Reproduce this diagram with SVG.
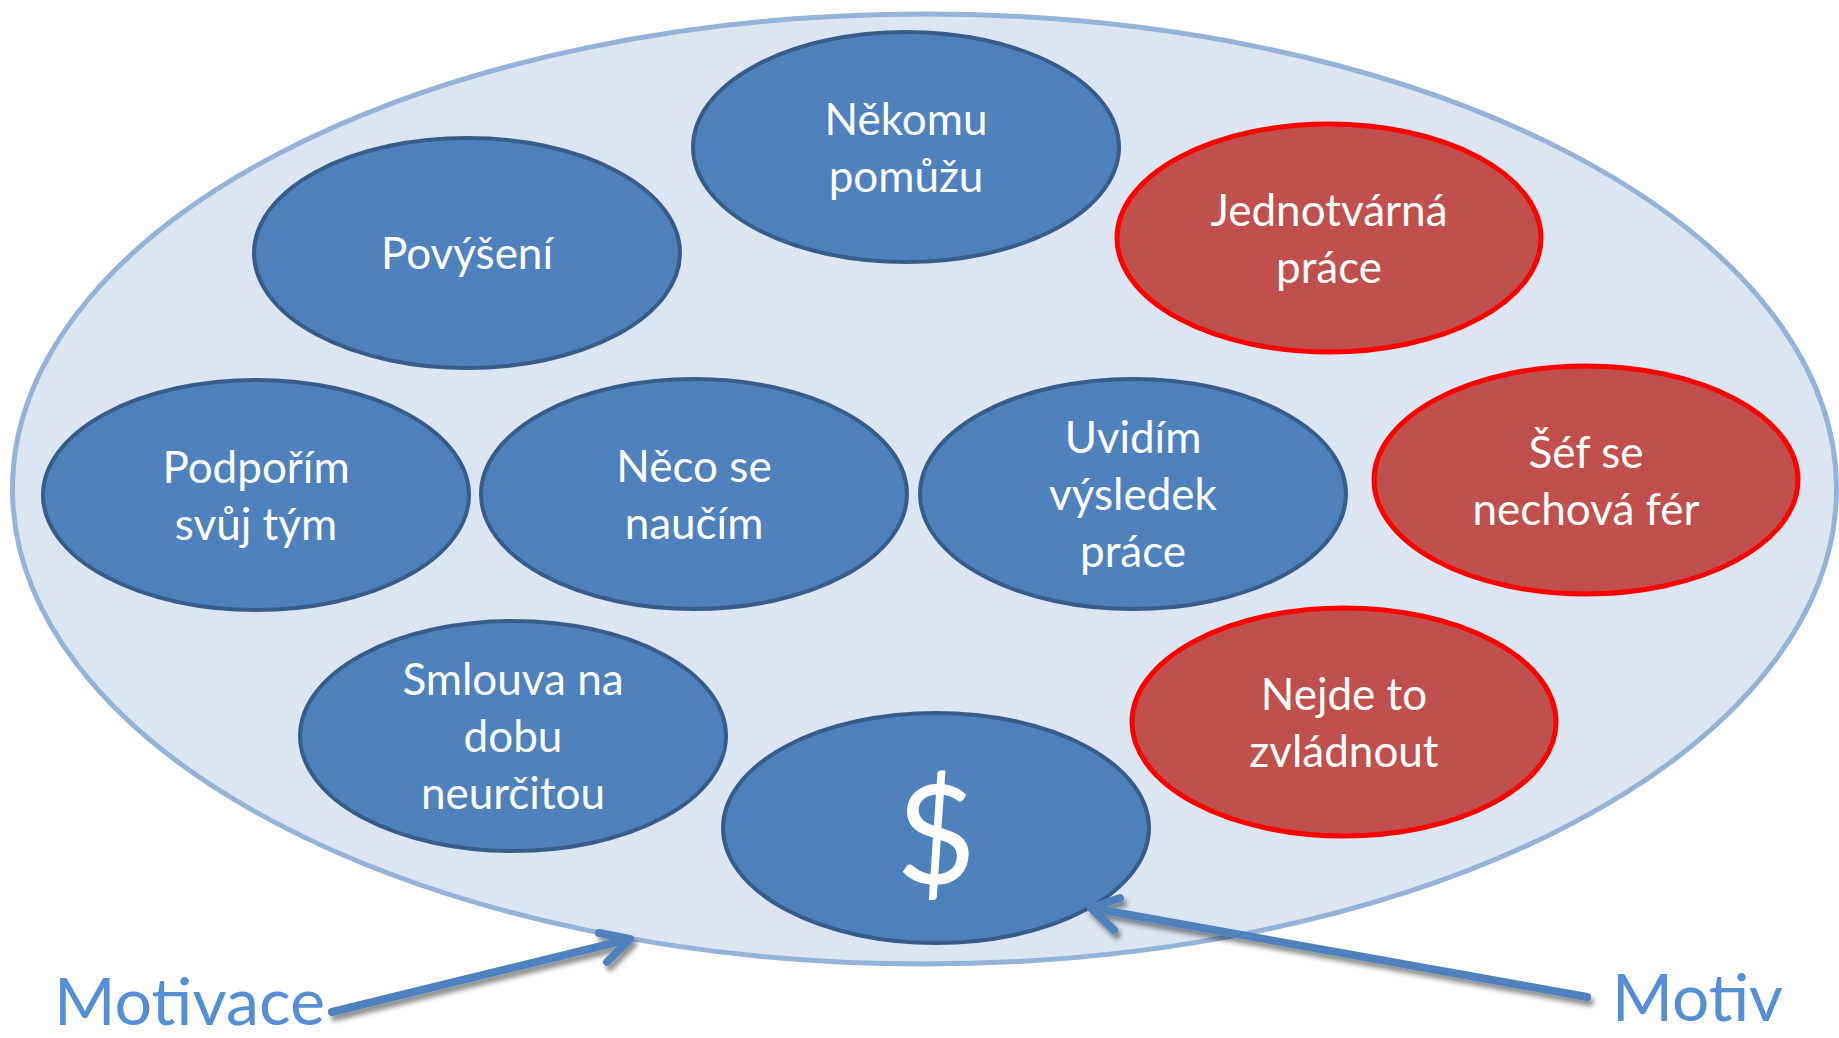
<svg xmlns="http://www.w3.org/2000/svg" width="1839" height="1038" viewBox="0 0 1839 1038">
<style>
.blue{fill:#4F81BD;stroke:#385D8A;stroke-width:4}
.red{fill:#C0504D;stroke:#FF0000;stroke-width:5}
.t{font-family:Lato,"Liberation Sans",sans-serif;font-size:44px;fill:#FFFFFF;text-anchor:middle}
.lbl{font-family:Lato,"Liberation Sans",sans-serif;font-size:66px;fill:#558ED5}
.arr{fill:none;stroke:#4F81BD;stroke-width:8;stroke-linecap:round;stroke-linejoin:round}
</style>
<defs>
<filter id="sh" x="-10%" y="-50%" width="120%" height="200%">
<feDropShadow dx="3" dy="5" stdDeviation="2.5" flood-color="#000" flood-opacity="0.45"/>
</filter>
</defs>
<rect width="1839" height="1038" fill="#FFFFFF"/>
<g id="container">
<ellipse cx="924.5" cy="489" rx="912" ry="475" fill="#DCE6F2" stroke="#95B3D7" stroke-width="5"/>
</g>
<g id="n-nekomu"><ellipse class="blue" cx="906" cy="147" rx="213" ry="115"/><text class="t" x="906" y="135">Někomu</text><text class="t" x="906" y="192">pomůžu</text></g>
<g id="n-povyseni"><ellipse class="blue" cx="467" cy="253" rx="213" ry="115"/><text class="t" x="467" y="269">Povýšení</text></g>
<g id="n-jednotvarna"><ellipse class="red" cx="1329" cy="238" rx="212" ry="114"/><text class="t" x="1329" y="226">Jednotvárná</text><text class="t" x="1329" y="283">práce</text></g>
<g id="n-podporim"><ellipse class="blue" cx="256" cy="495" rx="213" ry="115"/><text class="t" x="256" y="483">Podpořím</text><text class="t" x="256" y="540">svůj tým</text></g>
<g id="n-neco"><ellipse class="blue" cx="694" cy="494" rx="213" ry="115"/><text class="t" x="694" y="482">Něco se</text><text class="t" x="694" y="539">naučím</text></g>
<g id="n-uvidim"><ellipse class="blue" cx="1133" cy="494" rx="213" ry="115"/><text class="t" x="1133" y="453">Uvidím</text><text class="t" x="1133" y="510">výsledek</text><text class="t" x="1133" y="567">práce</text></g>
<g id="n-sef"><ellipse class="red" cx="1586" cy="480" rx="212" ry="114"/><text class="t" x="1586" y="468">Šéf se</text><text class="t" x="1586" y="525">nechová fér</text></g>
<g id="n-smlouva"><ellipse class="blue" cx="513" cy="736" rx="213" ry="115"/><text class="t" x="513" y="695">Smlouva na</text><text class="t" x="513" y="752">dobu</text><text class="t" x="513" y="809">neurčitou</text></g>
<g id="n-nejde"><ellipse class="red" cx="1344" cy="722" rx="212" ry="114"/><text class="t" x="1344" y="710">Nejde to</text><text class="t" x="1344" y="767">zvládnout</text></g>
<g id="n-dollar"><ellipse class="blue" cx="936" cy="828" rx="213" ry="115"/><text class="t" x="936" y="884" style="font-size:138px">$</text></g>
<g id="connectors" filter="url(#sh)">
<path class="arr" d="M332,1012 L630,939 M599,933 L630,939 L607,962"/>
<path class="arr" d="M1587,997 L1091,908 M1120,898 L1091,908 L1114,930"/>
</g>
<g id="labels">
<text class="lbl" x="54" y="1025" textLength="271" lengthAdjust="spacingAndGlyphs">Motivace</text>
<text class="lbl" x="1612" y="1021" textLength="171" lengthAdjust="spacingAndGlyphs">Motiv</text>
</g>
</svg>
